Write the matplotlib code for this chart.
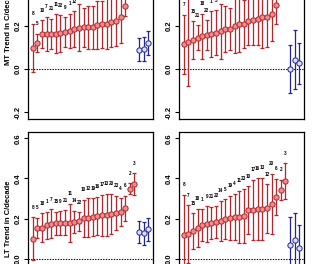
import matplotlib
matplotlib.use("Agg")
import matplotlib.pyplot as plt

plt.rcParams['font.family'] = ['Liberation Sans', 'DejaVu Sans']
plt.rcParams['axes.unicode_minus'] = False

# ---- data (model trends, sorted) ----
mt_left_vals = [0.098, 0.122, 0.164, 0.164, 0.164, 0.164, 0.166, 0.172, 0.178, 0.186, 0.192,
                0.194, 0.194, 0.194, 0.205, 0.208, 0.211, 0.219, 0.225, 0.242, 0.295]
mt_left_err = [0.113, 0.043, 0.065, 0.08, 0.07, 0.09, 0.085, 0.07, 0.08, 0.085, 0.11,
               0.09, 0.1, 0.1, 0.11, 0.11, 0.12, 0.115, 0.12, 0.12, 0.05]
mt_left_lab = [8, 5, 10, 7, 21, 11, 22, 9, 1, 12, 14, 15, 17, 19, 18, 13, 16, 20, 4, 6, 2]
mt_left_obs = [0.090, 0.093, 0.121]
mt_left_obs_err = [0.053, 0.057, 0.057]

mt_right_vals = [0.115, 0.124, 0.135, 0.146, 0.153, 0.158, 0.163, 0.169, 0.176, 0.186, 0.186,
                 0.201, 0.209, 0.210, 0.222, 0.227, 0.232, 0.242, 0.244, 0.258, 0.299]
mt_right_err = [0.138, 0.204, 0.087, 0.057, 0.105, 0.069, 0.105, 0.103, 0.128, 0.105, 0.097,
                0.127, 0.128, 0.113, 0.11, 0.115, 0.12, 0.145, 0.14, 0.13, 0.091]
mt_right_lab = [7, 8, 15, 21, 18, 22, 1, 5, 9, 14, 19, 10, 4, 11, 17, 13, 16, 12, 20, 6, 2]
mt_right_obs = [0.000, 0.043, 0.026]
mt_right_obs_err = [0.110, 0.137, 0.096]

lt_left_vals = [0.100, 0.153, 0.155, 0.166, 0.174, 0.176, 0.178, 0.179, 0.179, 0.183, 0.186, 0.201,
                0.203, 0.206, 0.214, 0.216, 0.219, 0.223, 0.228, 0.231, 0.251, 0.349, 0.371]
lt_left_err = [0.106, 0.05, 0.07, 0.068, 0.072, 0.058, 0.058, 0.062, 0.095, 0.056, 0.046, 0.093,
               0.097, 0.095, 0.095, 0.102, 0.105, 0.1, 0.086, 0.07, 0.062, 0.027, 0.054]
lt_left_lab = [8, 5, 18, 1, 7, 15, 9, 21, 11, 14, 22, 10, 12, 19, 16, 17, 13, 20, 23, 4, 6, 2, 3]
lt_left_obs = [0.133, 0.126, 0.146]
lt_left_obs_err = [0.056, 0.056, 0.058]

lt_right_vals = [0.118, 0.121, 0.136, 0.153, 0.166, 0.171, 0.179, 0.183, 0.188, 0.196, 0.204, 0.208,
                 0.209, 0.213, 0.241, 0.243, 0.246, 0.248, 0.250, 0.274, 0.309, 0.344, 0.387]
lt_right_err = [0.2, 0.145, 0.09, 0.095, 0.08, 0.09, 0.08, 0.08, 0.1, 0.1, 0.11, 0.115,
                0.13, 0.135, 0.12, 0.15, 0.155, 0.155, 0.12, 0.15, 0.09, 0.05, 0.09]
lt_right_lab = [8, 7, 15, 18, 1, 9, 21, 22, 14, 5, 19, 4, 11, 23, 10, 17, 16, 13, 12, 20, 6, 2, 3]
lt_right_obs = [0.068, 0.092, 0.052]
lt_right_obs_err = [0.14, 0.137, 0.114]

obs_pos = [24, 25, 26]

RED_LINE = '#B2262E'
RED_FILL = '#EE8C8C'
BLUE_LINE = '#25258F'
BLUE_FILL = '#DCDEF7'

W, H = 315, 264
fig = plt.figure(figsize=(W / 100, H / 100), dpi=100)

def add_panel(left_px, top_px, height_px, vals, errs, labs, obs, obs_err, ylabel, yticks, lab_off):
    ax = fig.add_axes([left_px / W, (H - top_px - height_px) / H, 125 / W, height_px / H])
    xs = list(range(1, len(vals) + 1))
    ax.errorbar(xs, vals, yerr=errs, fmt='none', ecolor=RED_LINE, elinewidth=0.9,
                capsize=1.3, capthick=0.9, zorder=2)
    ax.plot(xs, vals, 'o', ms=3.8, mfc=RED_FILL, mec=RED_LINE, mew=0.7, zorder=3)
    ax.errorbar(obs_pos, obs, yerr=obs_err, fmt='none', ecolor=BLUE_LINE, elinewidth=0.9,
                capsize=1.3, capthick=0.9, zorder=2)
    ax.plot(obs_pos, obs, 'o', ms=3.8, mfc=BLUE_FILL, mec=BLUE_LINE, mew=0.7, zorder=3)
    for x, v, e, l in zip(xs, vals, errs, labs):
        ax.text(x, v + e + lab_off, str(l), fontsize=3.3, fontweight='bold',
                ha='center', va='center', color='black')
    ax.axhline(0.0, color='black', lw=0.8, ls=(0, (1.2, 1.2)), zorder=1)
    ax.set_xlim(0, 27)
    ax.set_ylim(-0.232, 0.632)
    ax.set_xticks([])
    ax.set_yticks(yticks)
    ax.set_yticklabels([f'{t:.1f}' for t in yticks], rotation=90, va='center',
                       fontsize=5.5, fontweight='bold')
    ax.tick_params(axis='y', length=3, width=0.8, pad=1.5)
    for s in ax.spines.values():
        s.set_linewidth(0.9)
    if ylabel:
        ax.set_ylabel(ylabel, fontsize=5.5, fontweight='bold', labelpad=2)
    return ax

top_ticks = [-0.2, 0.0, 0.2, 0.4, 0.6]
bot_ticks = [-0.2, 0.0, 0.2, 0.4, 0.6]
add_panel(28, -67, 186, mt_left_vals, mt_left_err, mt_left_lab, mt_left_obs, mt_left_obs_err,
          'MT Trend in C/decade', top_ticks, 0.045)
add_panel(179, -67, 186, mt_right_vals, mt_right_err, mt_right_lab, mt_right_obs, mt_right_obs_err,
          None, top_ticks, 0.045)
add_panel(28, 132, 173, lt_left_vals, lt_left_err, lt_left_lab, lt_left_obs, lt_left_obs_err,
          'LT Trend in C/decade', bot_ticks, 0.05)
add_panel(179, 132, 173, lt_right_vals, lt_right_err, lt_right_lab, lt_right_obs, lt_right_obs_err,
          None, bot_ticks, 0.05)

fig.savefig('out.png', dpi=100)
